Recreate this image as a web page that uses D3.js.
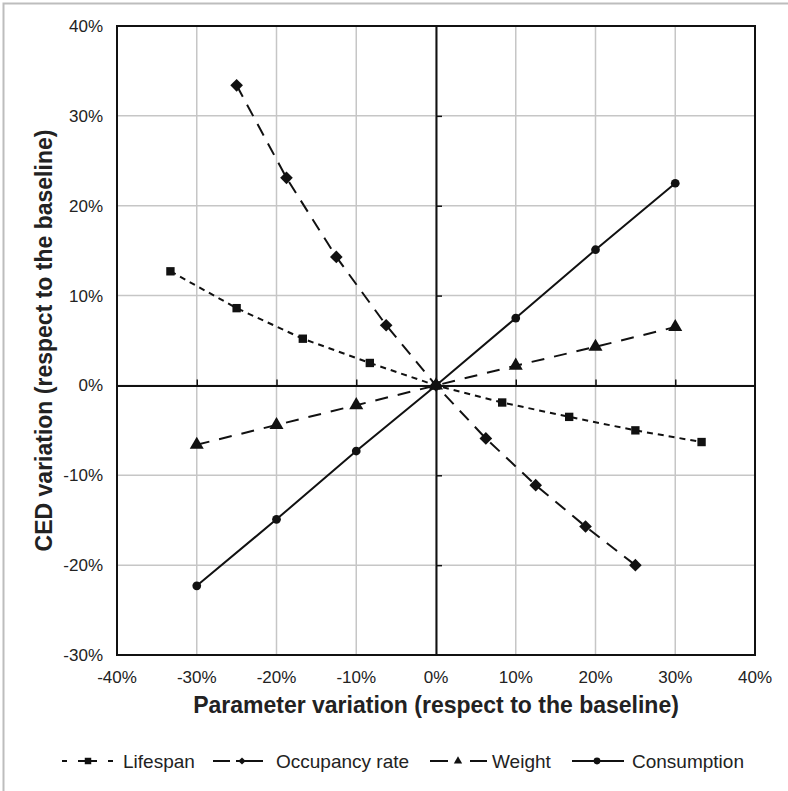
<!DOCTYPE html>
<html>
<head>
<meta charset="utf-8">
<script src="https://cdn.jsdelivr.net/npm/d3@7"></script>
<style>
  body { margin: 0; background: #fff; }
  text { font-family: "Liberation Sans", Arial, sans-serif; fill: #222; }
</style>
</head>
<body>
<div id="chart"></div>
<script>
// values (fractions of the baseline)
const xTicks = [-0.4, -0.3, -0.2, -0.1, 0, 0.1, 0.2, 0.3, 0.4]
const yTicks = [-0.3, -0.2, -0.1, 0, 0.1, 0.2, 0.3, 0.4]

const lifespanX = [-0.333, -0.25, -0.167, -0.083, 0, 0.083, 0.167, 0.25, 0.333]
const lifespanY = [0.127, 0.086, 0.052, 0.025, 0, -0.019, -0.035, -0.050, -0.063]

const occupancyX = [-0.25, -0.1875, -0.125, -0.0625, 0, 0.0625, 0.125, 0.1875, 0.25]
const occupancyY = [0.334, 0.231, 0.143, 0.067, 0, -0.059, -0.111, -0.157, -0.200]

const weightX = [-0.3, -0.2, -0.1, 0, 0.1, 0.2, 0.3]
const weightY = [-0.066, -0.044, -0.022, 0, 0.022, 0.043, 0.065]

const consumptionX = [-0.3, -0.2, -0.1, 0, 0.1, 0.2, 0.3]
const consumptionY = [-0.223, -0.149, -0.073, 0, 0.075, 0.151, 0.225]

const series = [
  { name: "Lifespan", xs: lifespanX, ys: lifespanY, dash: "6,5", symbol: d3.symbolSquare, rot: 0, size: 70, legendSize: 42 },
  { name: "Occupancy rate", xs: occupancyX, ys: occupancyY, dash: "13,9", symbol: d3.symbolSquare, rot: 45, size: 80, legendSize: 26 },
  { name: "Weight", xs: weightX, ys: weightY, dash: "13,10", symbol: d3.symbolTriangle, rot: 0, size: 85, legendSize: 30 },
  { name: "Consumption", xs: consumptionX, ys: consumptionY, dash: null, symbol: d3.symbolCircle, rot: 0, size: 60, legendSize: 36 },
]

const width = 788
const height = 791
const margin = { top: 26, right: 33, bottom: 136, left: 117 }

const svg = d3.select("#chart").append("svg")
  .attr("width", width)
  .attr("height", height)

// outer frame
svg.append("rect")
  .attr("x", 3.5).attr("y", 3.5)
  .attr("width", width - 2).attr("height", height - 2)
  .attr("fill", "none").attr("stroke", "#bdbdbd").attr("stroke-width", 2)

const x = d3.scaleLinear().domain([-0.4, 0.4]).range([margin.left, width - margin.right])
const y = d3.scaleLinear().domain([-0.3, 0.4]).range([height - margin.bottom, margin.top])
// plain hyphen for negatives, like the original
const pct = (d) => d3.format(".0%")(d).replace("\u2212", "-")

// gridlines
svg.append("g")
  .selectAll("line")
  .data(xTicks)
  .join("line")
  .attr("x1", (d) => x(d)).attr("x2", (d) => x(d))
  .attr("y1", y(0.4)).attr("y2", y(-0.3))
  .attr("stroke", "#c6c6c6").attr("stroke-width", 1.5)

svg.append("g")
  .selectAll("line")
  .data(yTicks)
  .join("line")
  .attr("x1", x(-0.4)).attr("x2", x(0.4))
  .attr("y1", (d) => y(d)).attr("y2", (d) => y(d))
  .attr("stroke", "#c6c6c6").attr("stroke-width", 1.5)

// plot border
svg.append("rect")
  .attr("x", x(-0.4)).attr("y", y(0.4))
  .attr("width", x(0.4) - x(-0.4)).attr("height", y(-0.3) - y(0.4))
  .attr("fill", "none").attr("stroke", "#111").attr("stroke-width", 2)

// axes through the origin, ticks only
const xAxis = svg.append("g")
  .attr("transform", `translate(0,${y(0)})`)
  .call(d3.axisTop(x).tickValues(xTicks.slice(1, -1)).tickSizeInner(6).tickSizeOuter(0).tickFormat(""))
xAxis.select(".domain").attr("stroke", "#111").attr("stroke-width", 2)
xAxis.selectAll(".tick line").attr("stroke", "#111").attr("stroke-width", 1.5)

const yAxis = svg.append("g")
  .attr("transform", `translate(${x(0)},0)`)
  .call(d3.axisRight(y).tickValues(yTicks.slice(1, -1)).tickSizeInner(6).tickSizeOuter(0).tickFormat(""))
yAxis.select(".domain").attr("stroke", "#111").attr("stroke-width", 2)
yAxis.selectAll(".tick line").attr("stroke", "#111").attr("stroke-width", 1.5)

// tick labels on the frame
svg.append("g")
  .selectAll("text")
  .data(xTicks)
  .join("text")
  .attr("x", (d) => x(d))
  .attr("y", y(-0.3) + 28)
  .attr("text-anchor", "middle")
  .attr("font-size", 17)
  .text(pct)

svg.append("g")
  .selectAll("text")
  .data(yTicks)
  .join("text")
  .attr("x", x(-0.4) - 14)
  .attr("y", (d) => y(d) + 6)
  .attr("text-anchor", "end")
  .attr("font-size", 17)
  .text(pct)

// axis titles
svg.append("text")
  .attr("x", x(0))
  .attr("y", y(-0.3) + 58)
  .attr("text-anchor", "middle")
  .attr("font-size", 23)
  .attr("font-weight", "bold")
  .text("Parameter variation (respect to the baseline)")

svg.append("text")
  .attr("transform", `translate(52,${(y(0.4) + y(-0.3)) / 2}) rotate(-90)`)
  .attr("text-anchor", "middle")
  .attr("font-size", 23)
  .attr("font-weight", "bold")
  .text("CED variation (respect to the baseline)")

// lines and markers
const line = d3.line().x((d) => x(d[0])).y((d) => y(d[1]))

series.forEach((s) => {
  const pts = s.xs.map((v, i) => [v, s.ys[i]])
  svg.append("path")
    .datum(pts)
    .attr("d", line)
    .attr("fill", "none")
    .attr("stroke", "#111")
    .attr("stroke-width", 2)
    .attr("stroke-dasharray", s.dash)

  svg.append("g")
    .selectAll("path")
    .data(pts)
    .join("path")
    .attr("transform", (d) => `translate(${x(d[0])},${y(d[1])}) rotate(${s.rot})`)
    .attr("d", d3.symbol(s.symbol, s.size))
    .attr("fill", "#111")
})

// legend: line pieces, marker position and text start for each entry
const legendItems = [
  { segs: [[62, 67], [78, 97], [108, 113]], mx: 88, tx: 123 },
  { segs: [[213, 230], [236, 263]], mx: 242, tx: 276 },
  { segs: [[430, 448], [470, 487]], mx: 458, tx: 492 },
  { segs: [[572, 624]], mx: 597, tx: 632 },
]
const legendY = 761

const legend = svg.append("g")
  .selectAll("g")
  .data(series)
  .join("g")

legend.each(function (d, i) {
  d3.select(this).selectAll("line")
    .data(legendItems[i].segs)
    .join("line")
    .attr("x1", (s) => s[0]).attr("x2", (s) => s[1])
    .attr("y1", legendY).attr("y2", legendY)
    .attr("stroke", "#111").attr("stroke-width", 2)
})

legend.append("path")
  .attr("transform", (d, i) => `translate(${legendItems[i].mx},${legendY}) rotate(${d.rot})`)
  .attr("d", (d) => d3.symbol(d.symbol, d.legendSize)())
  .attr("fill", "#111")

legend.append("text")
  .attr("x", (d, i) => legendItems[i].tx)
  .attr("y", legendY + 7)
  .attr("font-size", 19)
  .text((d) => d.name)
</script>
</body>
</html>
